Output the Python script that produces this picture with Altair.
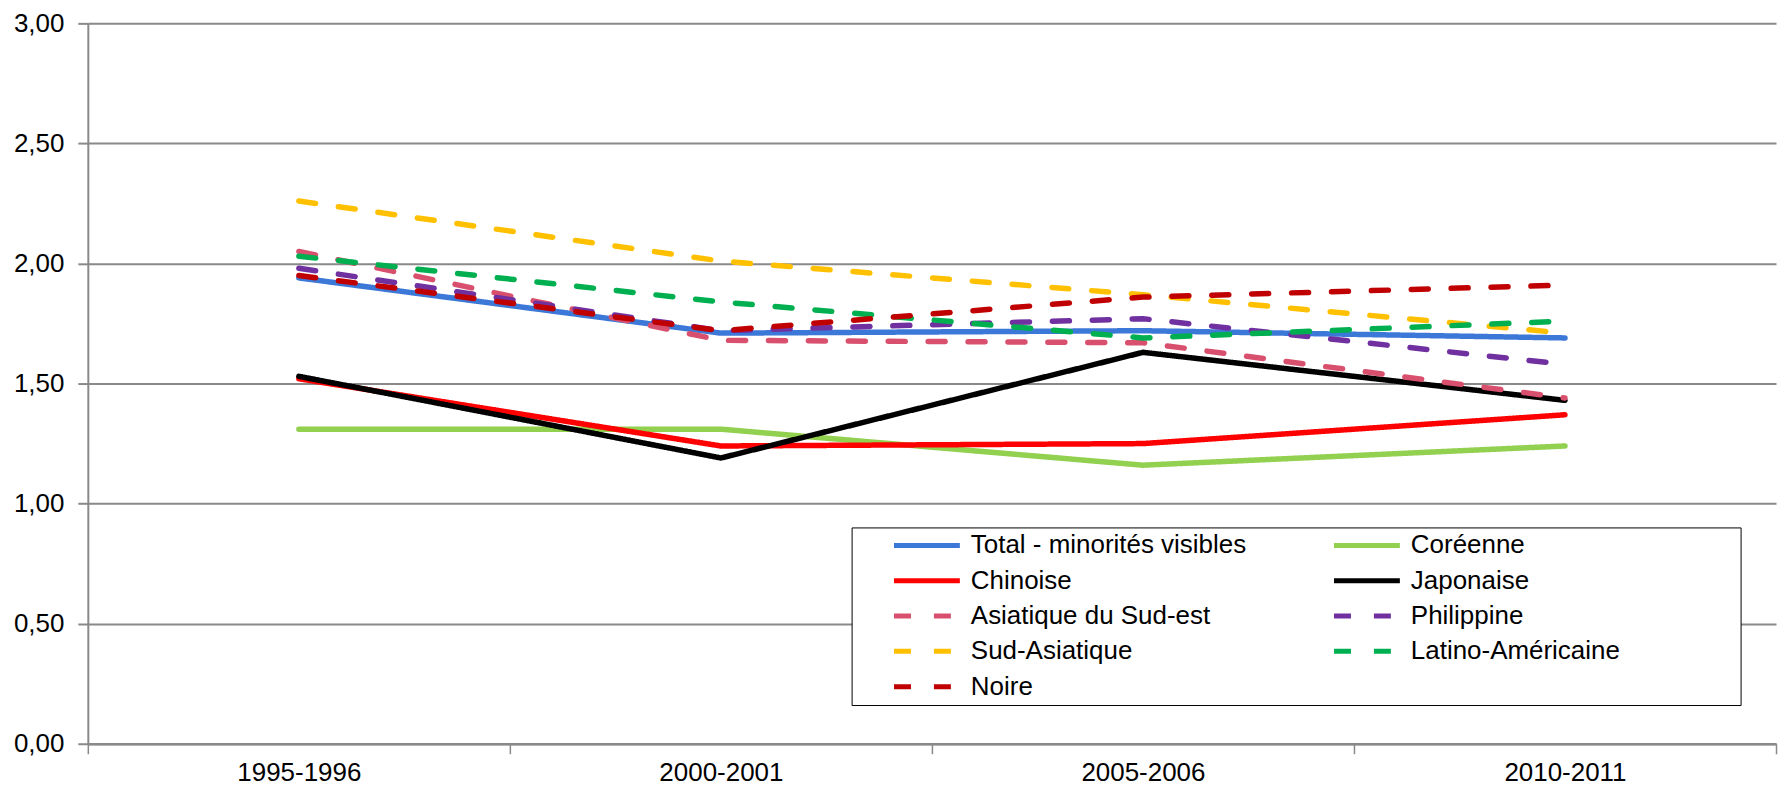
import altair as alt
import pandas as pd

periods = ["1995-1996", "2000-2001", "2005-2006", "2010-2011"]
series = [
    "Total - minorités visibles", "Coréenne", "Chinoise", "Japonaise",
    "Asiatique du Sud-est", "Philippine", "Sud-Asiatique", "Latino-Américaine", "Noire",
]
total = [1.94, 1.71, 1.72, 1.69]
coreenne = [1.31, 1.31, 1.16, 1.24]
chinoise = [1.52, 1.24, 1.25, 1.37]
japonaise = [1.53, 1.19, 1.63, 1.43]
asiatique_se = [2.05, 1.68, 1.67, 1.44]
philippine = [1.98, 1.72, 1.77, 1.58]
sud_asiatique = [2.26, 2.01, 1.87, 1.71]
latino = [2.03, 1.84, 1.69, 1.76]
noire = [1.95, 1.72, 1.86, 1.91]

colors = ["#3c78d8", "#92d050", "#ff0000", "#000000", "#d9506e",
          "#7030a0", "#ffc000", "#00b050", "#c00000"]
dashes = [[1, 0], [1, 0], [1, 0], [1, 0], [17, 23], [17, 23], [17, 23], [17, 23], [17, 23]]
y_ticks = [0, 0.5, 1, 1.5, 2, 2.5, 3]

values = [total, coreenne, chinoise, japonaise, asiatique_se, philippine,
          sud_asiatique, latino, noire]
rows = []
for i, (name, vals) in enumerate(zip(series, values)):
    for p, v in zip(periods, vals):
        rows.append({"series": name, "period": p, "value": v, "idx": i})
df = pd.DataFrame(rows)

FONT = "Liberation Sans"
GRID = "#898989"
# widen the legend frame on the right (as in the reference): invisible no-break spaces,
# closed by a zero-width space so that they are not trimmed
pad = "\u00a0" * 16 + "\u200b"
label_expr = "datum.label == 'Latino-Américaine' ? datum.label + '" + pad + "' : datum.label"

chart = alt.Chart(df).mark_line(
    strokeWidth=5.5, strokeCap="round", strokeJoin="round"
).encode(
    x=alt.X(
        "period:N", sort=periods, title=None,
        scale=alt.Scale(type="band", paddingInner=0, paddingOuter=0),
        axis=alt.Axis(
            labelAngle=0, tickBand="extent", grid=False, labelFont=FONT,
            labelFontSize=26, labelColor="black", labelPadding=6, tickSize=10,
            tickColor=GRID, tickWidth=1.5, domainColor=GRID, domainWidth=2.5,
        ),
    ),
    y=alt.Y(
        "value:Q", title=None,
        scale=alt.Scale(domain=[0, 3], nice=False),
        axis=alt.Axis(
            values=y_ticks, labelExpr="replace(format(datum.value, '.2f'), '.', ',')",
            labelFont=FONT, labelFontSize=26, labelColor="black", labelPadding=14,
            tickSize=10, tickColor=GRID, tickWidth=2, domainColor=GRID, domainWidth=2,
            gridColor=GRID, gridWidth=2,
        ),
    ),
    color=alt.Color("series:N", title=None, sort=series,
                    scale=alt.Scale(domain=series, range=colors),
                    legend=alt.Legend(labelExpr=label_expr)),
    strokeDash=alt.StrokeDash("series:N", title=None, sort=series,
                              scale=alt.Scale(domain=series, range=dashes),
                              legend=alt.Legend(labelExpr=label_expr)),
    detail="idx:O",
).properties(
    width=1692, height=722,
    autosize=alt.AutoSizeParams(type="none"),
    padding={"left": 80, "top": 14.5, "right": 5, "bottom": 60},
).configure_view(
    stroke=None
).configure_legend(
    orient="none", legendX=765.5, legendY=505.2, columns=2, direction="horizontal",
    strokeColor="black", fillColor="white", padding=5,
    symbolType="stroke", symbolSize=4356, symbolStrokeWidth=5, clipHeight=26,
    symbolOffset=35, labelOffset=8.5, labelFont=FONT, labelFontSize=26,
    labelColor="black", labelLimit=800, columnPadding=50, rowPadding=9.4,
)

chart.save("out.html", embed_options={"renderer": "svg", "actions": False})
